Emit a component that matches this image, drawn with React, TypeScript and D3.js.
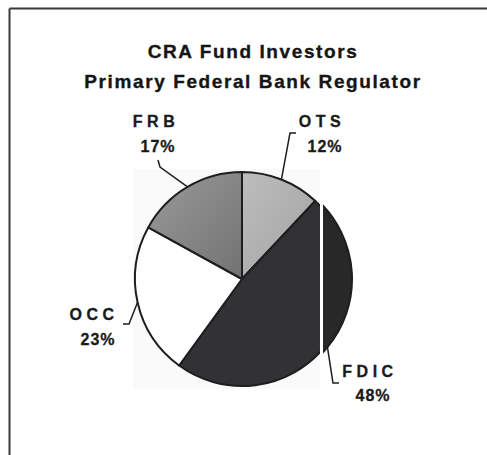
import React from "react";
import * as d3 from "d3";

// ---- data ----
const categories = ["OTS", "FDIC", "OCC", "FRB"];
const shares = [12, 48, 23, 17];
const titleLines = ["CRA Fund Investors", "Primary Federal Bank Regulator"];

// ---- style / layout ----
const W = 487;
const H = 455;
const cx = 242;
const cy = 279;
const R = 107;
const splitX = 320; // scan seam through FDIC slice
const seamShift = 3;
const fills: Record<string, string> = {
  OTS: "url(#gOTS)",
  FDIC: "#323234",
  OCC: "#ffffff",
  FRB: "url(#gFRB)",
};
// label layout: name anchor, percent anchor, elbow and tick end of the leader line
const labelLayout: Record<string, { nx: number; ny: number; px: number; py: number; elbow: [number, number]; end: [number, number] }> = {
  OTS: { nx: 322, ny: 127, px: 325, py: 152, elbow: [290, 133], end: [296, 133] },
  FDIC: { nx: 370, ny: 377, px: 373, py: 401, elbow: [333, 383], end: [339, 383] },
  OCC: { nx: 94, ny: 320, px: 98, py: 345, elbow: [129, 324], end: [123, 324] },
  FRB: { nx: 156, ny: 127, px: 158, py: 152, elbow: [160, 167], end: [158, 160] },
};

const font = "'Liberation Sans', Arial, Helvetica, sans-serif";

export default function App() {
  const pie = d3
    .pie<number>()
    .sort(null)
    .value((d) => d)
    .startAngle(0)
    .endAngle(2 * Math.PI);
  const arcs = pie(shares);
  const arc = d3.arc<d3.PieArcDatum<number>>().innerRadius(0).outerRadius(R);

  const edgePoint = (a: d3.PieArcDatum<number>, shift: number) => {
    const m = (a.startAngle + a.endAngle) / 2;
    return [cx + R * Math.sin(m) + shift, cy - R * Math.cos(m)] as [number, number];
  };
  const line = d3.line();

  return (
    <svg
      width={W}
      height={H}
      viewBox={`0 0 ${W} ${H}`}
      style={{ position: "absolute", left: 0, top: 0, display: "block", background: "#fff" }}
    >
      <defs>
        <linearGradient id="gOTS" x1="0" y1="0" x2="1" y2="1">
          <stop offset="0" stopColor="#bdbdbd" />
          <stop offset="1" stopColor="#a2a2a2" />
        </linearGradient>
        <linearGradient id="gFRB" x1="0" y1="0" x2="1" y2="1">
          <stop offset="0" stopColor="#9a9a9a" />
          <stop offset="1" stopColor="#727272" />
        </linearGradient>
        <clipPath id="clipR">
          <rect x={splitX - cx} y={-H} width={W} height={2 * H} />
        </clipPath>
        <clipPath id="clipL2">
          <rect x={-W} y={-H} width={W + splitX - cx} height={2 * H} />
        </clipPath>
      </defs>

      {/* frame */}
      <line x1={9.5} y1={8.5} x2={W} y2={8.5} stroke="#3a3a3a" strokeWidth={2} />
      <line x1={9.5} y1={8.5} x2={9.5} y2={H} stroke="#3a3a3a" strokeWidth={2} />

      {/* title */}
      {titleLines.map((t, i) => (
        <text
          key={t}
          x={253}
          y={58 + i * 30}
          textAnchor="middle"
          fontFamily={font}
          fontWeight="bold"
          fontSize={19}
          letterSpacing={1.6}
          fill="#151515"
          stroke="#151515"
          strokeWidth={0.35}
        >
          {t}
        </text>
      ))}

      {/* pasted image background */}
      <rect x={133} y={169} width={splitX - 133} height={220} fill="#fafafa" />

      {/* pie */}
      <g transform={`translate(${cx},${cy})`}>
        {arcs.map((a, i) => {
          const cat = categories[i];
          if (cat === "FDIC") {
            return (
              <g key={cat}>
                <path d={arc(a) || ""} fill={fills[cat]} stroke="#1e1e1e" strokeWidth={2} clipPath="url(#clipL2)" />
                <g transform={`translate(${seamShift},0)`}>
                  <path d={arc(a) || ""} fill="#282828" stroke="#1e1e1e" strokeWidth={2} clipPath="url(#clipR)" />
                </g>
              </g>
            );
          }
          return <path key={cat} d={arc(a) || ""} fill={fills[cat]} stroke="#1e1e1e" strokeWidth={2} strokeLinejoin="round" />;
        })}
      </g>

      {/* leader lines and labels */}
      {arcs.map((a, i) => {
        const cat = categories[i];
        const L = labelLayout[cat];
        const start = edgePoint(a, cat === "FDIC" ? seamShift : 0);
        return (
          <g key={"lbl" + cat}>
            <path d={line([start, L.elbow, L.end]) || ""} fill="none" stroke="#1e1e1e" strokeWidth={1.5} />
            <text
              x={L.nx}
              y={L.ny}
              textAnchor="middle"
              fontFamily={font}
              fontWeight="bold"
              fontSize={16}
              letterSpacing={4.5}
              fill="#1a1a1a"
              stroke="#1a1a1a"
              strokeWidth={0.3}
            >
              {cat}
            </text>
            <text
              x={L.px}
              y={L.py}
              textAnchor="middle"
              fontFamily={font}
              fontWeight="bold"
              fontSize={16}
              letterSpacing={1}
              fill="#1a1a1a"
              stroke="#1a1a1a"
              strokeWidth={0.3}
            >
              {`${shares[i]}%`}
            </text>
          </g>
        );
      })}
    </svg>
  );
}
